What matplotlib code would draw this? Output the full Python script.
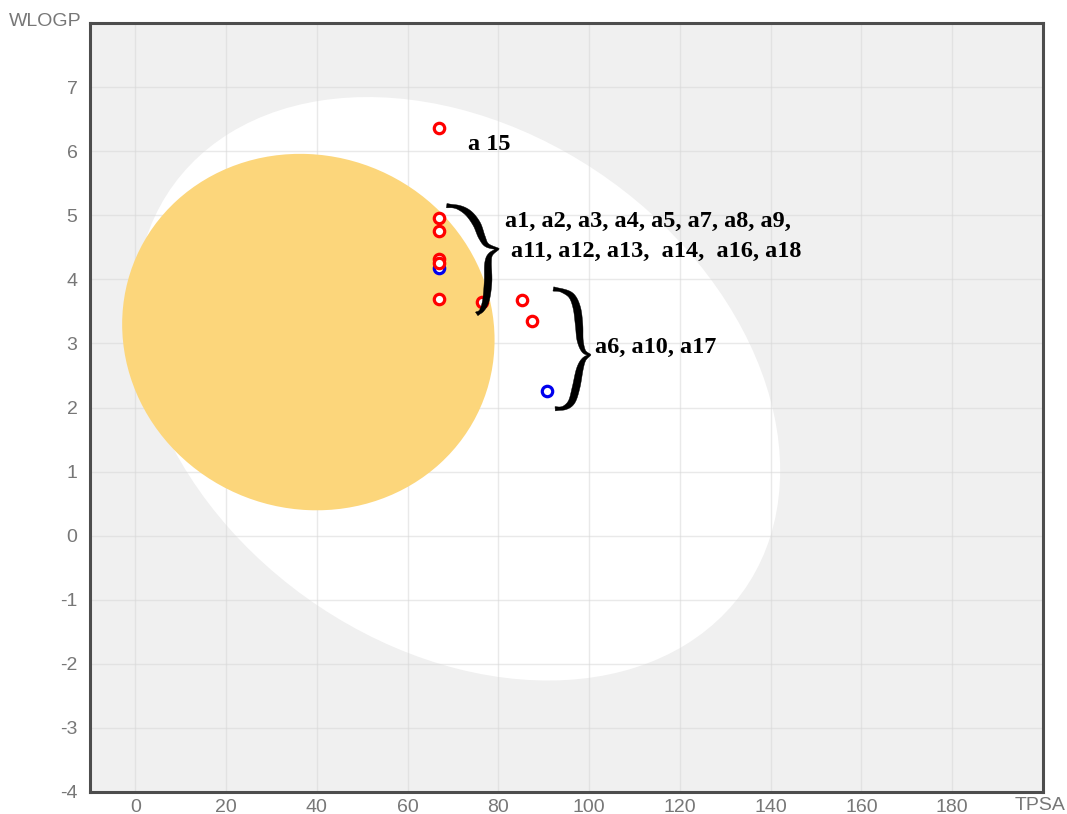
import matplotlib
matplotlib.use("Agg")
import numpy as np
import matplotlib.pyplot as plt
from matplotlib.patches import Ellipse, Polygon

plt.rcParams["axes.unicode_minus"] = False

# ---- data ----
red_tpsa = [67.0, 67.0, 67.0, 67.0, 67.0, 67.0, 76.3, 85.3, 87.3]
red_wlogp = [6.36, 4.95, 4.76, 4.31, 4.25, 3.70, 3.65, 3.67, 3.35]
blue_tpsa = [67.0, 90.8]
blue_wlogp = [4.18, 2.26]

# BOILED-Egg regions (center, width, height, angle)
white_center, white_w, white_h, white_angle = (71.051, 2.292), 142.081, 8.740, -1.031325
yolk_center, yolk_w, yolk_h, yolk_angle = (38.117, 3.177), 82.061, 5.557, -0.171887

x_ticks = [0, 20, 40, 60, 80, 100, 120, 140, 160, 180]
y_ticks = [-4, -3, -2, -1, 0, 1, 2, 3, 4, 5, 6, 7]

labels = [
    ("a 15", 73.4, 6.10),
    ("a1, a2, a3, a4, a5, a7, a8, a9,", 81.4, 4.90),
    ("a11, a12, a13,  a14,  a16, a18", 82.8, 4.43),
    ("a6, a10, a17", 101.2, 2.93),
]
# brace boxes (x0, x1, y0, y1) and shapes (normalised centre-line, top half / lower half)
braces = [
    ((68.6, 80.0, 3.46, 5.15),
     [(0.0, 1.0), (0.22, 0.985), (0.42, 0.93), (0.58, 0.83), (0.68, 0.71), (0.78, 0.635), (1.0, 0.6)],
     [(1.0, 0.6), (0.85, 0.55), (0.80, 0.47), (0.80, 0.30), (0.76, 0.13), (0.68, 0.035), (0.58, 0.0)]),
    ((92.1, 100.2, 1.98, 3.85),
     [(0.0, 1.0), (0.25, 0.985), (0.5, 0.94), (0.64, 0.84), (0.70, 0.70), (0.73, 0.57), (0.83, 0.48), (1.0, 0.45)],
     [(1.0, 0.45), (0.83, 0.41), (0.72, 0.33), (0.62, 0.18), (0.5, 0.06), (0.3, 0.008), (0.05, 0.0)]),
]

fig = plt.figure(figsize=(10.67, 8.14), dpi=100)
ax = fig.add_axes([90 / 1067, 22 / 814, 953 / 1067, 769 / 814])
ax.set_facecolor("#f0f0f0")
ax.set_xlim(-10, 200)
ax.set_ylim(-4, 8)

ax.add_patch(Ellipse(white_center, white_w, white_h, angle=white_angle,
                     facecolor="white", edgecolor="none", zorder=1))
ax.add_patch(Ellipse(yolk_center, yolk_w, yolk_h, angle=yolk_angle,
                     facecolor="#fcd67b", edgecolor="none", zorder=2))

ax.set_xticks(x_ticks)
ax.set_yticks(y_ticks)
ax.grid(True, color="#d8d8d8", linewidth=1.0, alpha=0.55)
for gl in ax.get_xgridlines() + ax.get_ygridlines():
    gl.set_zorder(3)
ax.tick_params(length=0, labelsize=14, labelcolor="#777777")
ax.tick_params(axis="y", pad=9)
ax.tick_params(axis="x", pad=5)
for lab in ax.get_xticklabels() + ax.get_yticklabels():
    lab.set_family("Liberation Sans")

for s in ax.spines.values():
    s.set_color("#4d4d4d")
    s.set_linewidth(2.2)
    s.set_zorder(10)

ax.plot(blue_tpsa, blue_wlogp, linestyle="none", marker="o", markersize=7.5,
        markerfacecolor="white", markeredgecolor="#0000ee", markeredgewidth=2.3, zorder=5)
ax.plot(red_tpsa, red_wlogp, linestyle="none", marker="o", markersize=7.5,
        markerfacecolor="white", markeredgecolor="#ff0000", markeredgewidth=2.3, zorder=6)

for txt, x, y in labels:
    ax.text(x, y, txt, family="Liberation Serif", fontweight="bold", fontsize=17.5,
            color="black", ha="left", va="center", zorder=8)


def catmull(points, n=30):
    p = np.asarray(points, float)
    p = np.vstack([p[0], p, p[-1]])
    out = []
    for i in range(1, len(p) - 2):
        p0, p1, p2, p3 = p[i - 1], p[i], p[i + 1], p[i + 2]
        t = np.linspace(0, 1, n, endpoint=False)[:, None]
        out.append(0.5 * (2 * p1 + (-p0 + p2) * t + (2 * p0 - 5 * p1 + 4 * p2 - p3) * t ** 2
                          + (-p0 + 3 * p1 - 3 * p2 + p3) * t ** 3))
    out.append(p[-2][None, :])
    return np.vstack(out)


def half_thickness(m):
    s = np.linspace(0, 1, m)
    return 1.6 + 6.0 * np.sin(np.pi * s) ** 1.2 + 2.6 * np.exp(-(s / 0.07) ** 2)


for (x0, x1, y0, y1), top, low in braces:
    d0 = ax.transData.transform((x0, y0))
    d1 = ax.transData.transform((x1, y1))
    w, h = d1 - d0
    ct = catmull(top)
    cl = catmull(low)
    tt = half_thickness(len(ct))
    tl = half_thickness(len(cl))[::-1]
    c = np.vstack([ct, cl[1:]])
    th = np.concatenate([tt, tl[1:]])
    pix = np.column_stack([d0[0] + c[:, 0] * w, d0[1] + c[:, 1] * h])
    tang = np.gradient(pix, axis=0)
    tang /= np.linalg.norm(tang, axis=1)[:, None] + 1e-9
    nrm = np.column_stack([-tang[:, 1], tang[:, 0]])
    left = pix + nrm * th[:, None] / 2
    right = pix - nrm * th[:, None] / 2
    poly = np.vstack([left, right[::-1]])
    poly_data = ax.transData.inverted().transform(poly)
    ax.add_patch(Polygon(poly_data, closed=True, facecolor="black", edgecolor="black",
                         linewidth=0.3, zorder=8))

fig.text(82 / 1067, 1 - 21 / 814, "WLOGP", ha="right", va="center", fontsize=14,
         color="#777777", family="Liberation Sans")
fig.text(1040 / 1067, 1 - 806 / 814, "TPSA", ha="center", va="center", fontsize=14,
         color="#777777", family="Liberation Sans")

fig.savefig("out.png", dpi=100)
